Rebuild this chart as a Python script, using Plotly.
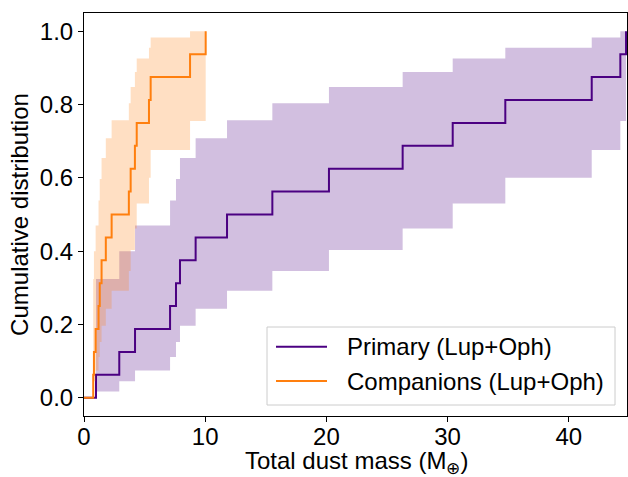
import plotly.graph_objects as go

# ---- data ----
primary_mass = [0.99, 2.91, 4.21, 7.10, 7.59, 7.92, 9.21, 11.80, 15.54, 20.21,
                26.29, 30.42, 34.76, 41.89, 44.25, 44.72]
companion_mass = [0.76, 0.82, 0.96, 1.20, 1.30, 1.45, 1.80, 2.28, 3.70, 3.85,
                  4.20, 4.35, 5.36, 5.50, 8.75, 10.04]
cdf_values = [0.0625, 0.125, 0.1875, 0.25, 0.3125, 0.375, 0.4375, 0.5,
              0.5625, 0.625, 0.6875, 0.75, 0.8125, 0.875, 0.9375, 1.0]
ci_upper = [0.324, 0.40, 0.47, 0.538, 0.597, 0.654, 0.708, 0.757, 0.804, 0.848,
            0.889, 0.926, 0.955, 0.983, 1.0, 1.0]
ci_lower = [0.017, 0.045, 0.074, 0.111, 0.152, 0.196, 0.243, 0.292, 0.346, 0.403,
            0.462, 0.53, 0.60, 0.676, 0.755, 0.755]
labels = ["Primary (Lup+Oph)", "Companions (Lup+Oph)"]
x_ticks = [0, 10, 20, 30, 40]
y_ticks = [0.0, 0.2, 0.4, 0.6, 0.8, 1.0]
x_title = "Total dust mass (M<sub>⊕</sub>)"
y_title = "Cumulative distribution"

PURPLE = "rgb(75,0,130)"
PURPLE_FILL = "rgba(75,0,130,0.25)"
ORANGE = "#ff7f0e"
ORANGE_FILL = "rgba(255,127,14,0.25)"
FONT = "Liberation Sans, Arial, sans-serif"

fig = go.Figure()


def add_band(xs, fillcolor):
    fig.add_trace(go.Scatter(x=xs, y=ci_lower, mode="lines", line=dict(width=0, shape="hv"),
                             hoverinfo="skip", showlegend=False))
    fig.add_trace(go.Scatter(x=xs, y=ci_upper, mode="lines", line=dict(width=0, shape="hv"),
                             fill="tonexty", fillcolor=fillcolor,
                             hoverinfo="skip", showlegend=False))


def add_line(xs, color, name):
    fig.add_trace(go.Scatter(x=[0] + xs, y=[0] + cdf_values, mode="lines",
                             line=dict(color=color, width=2, shape="hv"),
                             name=name, showlegend=False))


add_band(primary_mass, PURPLE_FILL)
add_line(primary_mass, PURPLE, labels[0])
add_band(companion_mass, ORANGE_FILL)
add_line(companion_mass, ORANGE, labels[1])

# ---- manual legend (matplotlib style) ----
L, R, T, B = 84, 627, 13, 416


def px(xp):
    return (xp - L) / (R - L)


def py(yp):
    return (B - yp) / (B - T)


fig.add_shape(type="rect", xref="paper", yref="paper",
              x0=px(267), x1=px(615), y0=py(405), y1=py(327),
              line=dict(color="#cccccc", width=1), fillcolor="rgba(255,255,255,0.8)",
              layer="above")
for i, (lab, col) in enumerate(zip(labels, [PURPLE, ORANGE])):
    yc = [346.7, 381][i]
    fig.add_shape(type="line", xref="paper", yref="paper",
                  x0=px(276), x1=px(327), y0=py(yc), y1=py(yc),
                  line=dict(color=col, width=2), layer="above")
    fig.add_annotation(xref="paper", yref="paper", x=px(345), y=py(yc),
                       xanchor="left", yanchor="middle", text=lab, showarrow=False,
                       font=dict(size=24, color="black", family=FONT))

# x-axis title placed as annotation below the tick labels
fig.add_annotation(xref="paper", yref="paper", x=px(356), y=py(462),
                   xanchor="center", yanchor="middle", text=x_title, showarrow=False,
                   font=dict(size=24, color="black", family=FONT))

axis_common = dict(showline=True, linecolor="black", linewidth=1, mirror=True,
                   ticks="outside", ticklen=5, tickwidth=1, tickcolor="black",
                   showgrid=False, zeroline=False, automargin=False,
                   tickfont=dict(size=24, color="black", family=FONT))

fig.update_layout(
    width=628, height=477,
    margin=dict(l=L, r=628 - R, t=T, b=477 - B),
    plot_bgcolor="white", paper_bgcolor="white",
    font=dict(family=FONT, size=24, color="black"),
    xaxis=dict(range=[0, 44.8], tickvals=x_ticks, ticklabelstandoff=-6, **axis_common),
    yaxis=dict(range=[-0.05, 1.05], tickvals=y_ticks, tickformat=".1f",
               title=dict(text=y_title, standoff=4,
                          font=dict(size=24, family=FONT)),
               **axis_common),
)

fig.write_html("out.html")
